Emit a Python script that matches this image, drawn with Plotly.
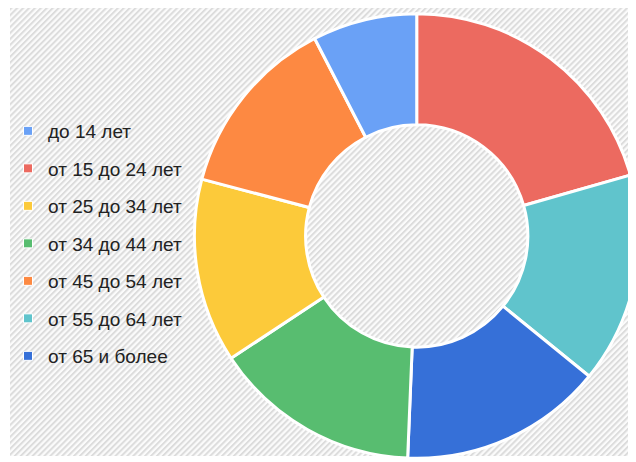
import base64
import plotly.graph_objects as go

# Data (legend order)
categories = ["до 14 лет", "от 15 до 24 лет", "от 25 до 34 лет", "от 34 до 44 лет",
              "от 45 до 54 лет", "от 55 до 64 лет", "от 65 и более"]
values = [7.6, 20.6, 13.4, 15.1, 13.3, 15.3, 14.8]
colors = ["#6aa1f6", "#ec6a60", "#fcca3a", "#58bd70", "#fd8942", "#60c4cc", "#3670d8"]
# order of slices clockwise from 12 o'clock
slice_order = ["от 15 до 24 лет", "от 55 до 64 лет", "от 65 и более", "от 34 до 44 лет",
               "от 25 до 34 лет", "от 45 до 54 лет", "до 14 лет"]

W, H = 636, 462

idx = [categories.index(c) for c in slice_order]
fig = go.Figure()
fig.add_trace(go.Pie(
    labels=[categories[i] for i in idx],
    values=[values[i] for i in idx],
    marker=dict(colors=[colors[i] for i in idx], line=dict(color="white", width=3)),
    hole=0.5, sort=False, direction="clockwise", rotation=0,
    textinfo="none", showlegend=False,
    domain=dict(x=[185 / W, 631 / W], y=[11 / H, 457 / H]),
))

for c, col in zip(categories, colors):
    fig.add_trace(go.Scatter(
        x=[None], y=[None], mode="markers", name=c, legendgroup=c,
        marker=dict(symbol="square", size=9, color=col, line=dict(color="white", width=1)),
    ))

# striped background
bw, bh = 628, 448
svg = f'''<svg xmlns="http://www.w3.org/2000/svg" width="{bw}" height="{bh}" viewBox="0 0 {bw} {bh}">
<defs><pattern id="p" width="4.2" height="4.2" patternUnits="userSpaceOnUse" patternTransform="rotate(45)">
<rect width="4.2" height="4.2" fill="#fbfbfb"/><rect width="2" height="4.2" fill="#dcdcdc"/></pattern></defs>
<rect width="{bw}" height="{bh}" fill="url(#p)"/></svg>'''
uri = "data:image/svg+xml;base64," + base64.b64encode(svg.encode()).decode()

fig.update_layout(
    width=W, height=H,
    margin=dict(l=0, r=0, t=0, b=0),
    paper_bgcolor="white", plot_bgcolor="rgba(0,0,0,0)",
    xaxis=dict(visible=False), yaxis=dict(visible=False),
    images=[dict(source=uri, xref="paper", yref="paper", x=0, y=1,
                 sizex=bw / W, sizey=bh / H, xanchor="left", yanchor="top",
                 sizing="stretch", layer="below")],
    legend=dict(x=-2 / W, y=1 - 104 / H, xanchor="left", yanchor="top",
                bgcolor="rgba(0,0,0,0)", tracegroupgap=9.8,
                font=dict(family="Arial, Liberation Sans", size=19, color="#222222")),
)

fig.write_html("out.html")
